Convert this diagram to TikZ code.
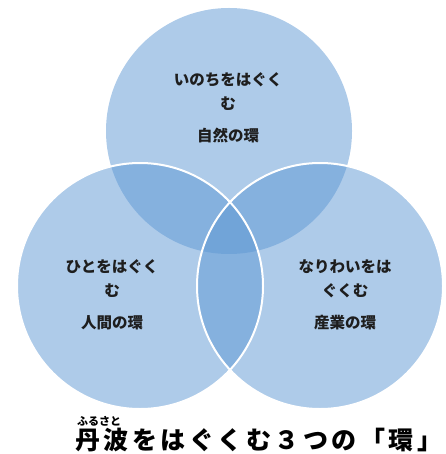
\documentclass[tikz,border=0pt]{standalone}
\usepackage{fontspec}
\newfontfamily\jpfont{Noto Sans CJK JP}
\newfontfamily\titlefont{Noto Sans CJK JP}[LetterSpace=14]
\definecolor{ringblue}{RGB}{93,151,211}
\definecolor{inkgray}{RGB}{30,30,30}
\tikzset{
	ring/.style={fill=ringblue, fill opacity=0.5},
	rim/.style={draw=white, line width=2pt},
	ringtext/.style={text=inkgray, align=center, font=\jpfont\bfseries\fontsize{15.5}{23.5}\selectfont}
}
\begin{document}
\begin{tikzpicture}[x=1pt, y=-1pt]
	\useasboundingbox (0,0) rectangle (445,454);
	\coordinate (T) at (229,131); \coordinate (L) at (140,286);
	\coordinate (R) at (320,286);
	\foreach \c in {T,L,R} \fill[ring] (\c) circle (123pt);
	\foreach \c in {L,R} \draw[rim] (\c) circle (123pt);
	\node[ringtext] (nature) at (228,108) {いのちをはぐく\\む\\[8.5pt]自然の環};
	\node[ringtext] (people) at (112,295) {ひとをはぐく\\む\\[8.5pt]人間の環};
	\node[ringtext] (work) at (345,295) {なりわいをは\\ぐくむ\\[8.5pt]産業の環};
	\node[anchor=west, inner sep=0pt, text=black, font=\titlefont\bfseries\fontsize{25}{28}\selectfont] (title) at (75,440) {丹波をはぐくむ３つの「環」};
	\node[inner sep=0pt, text=black, font=\jpfont\bfseries\fontsize{11}{12}\selectfont] (ruby) at (99,421) {ふるさと};
\end{tikzpicture}
\end{document}
